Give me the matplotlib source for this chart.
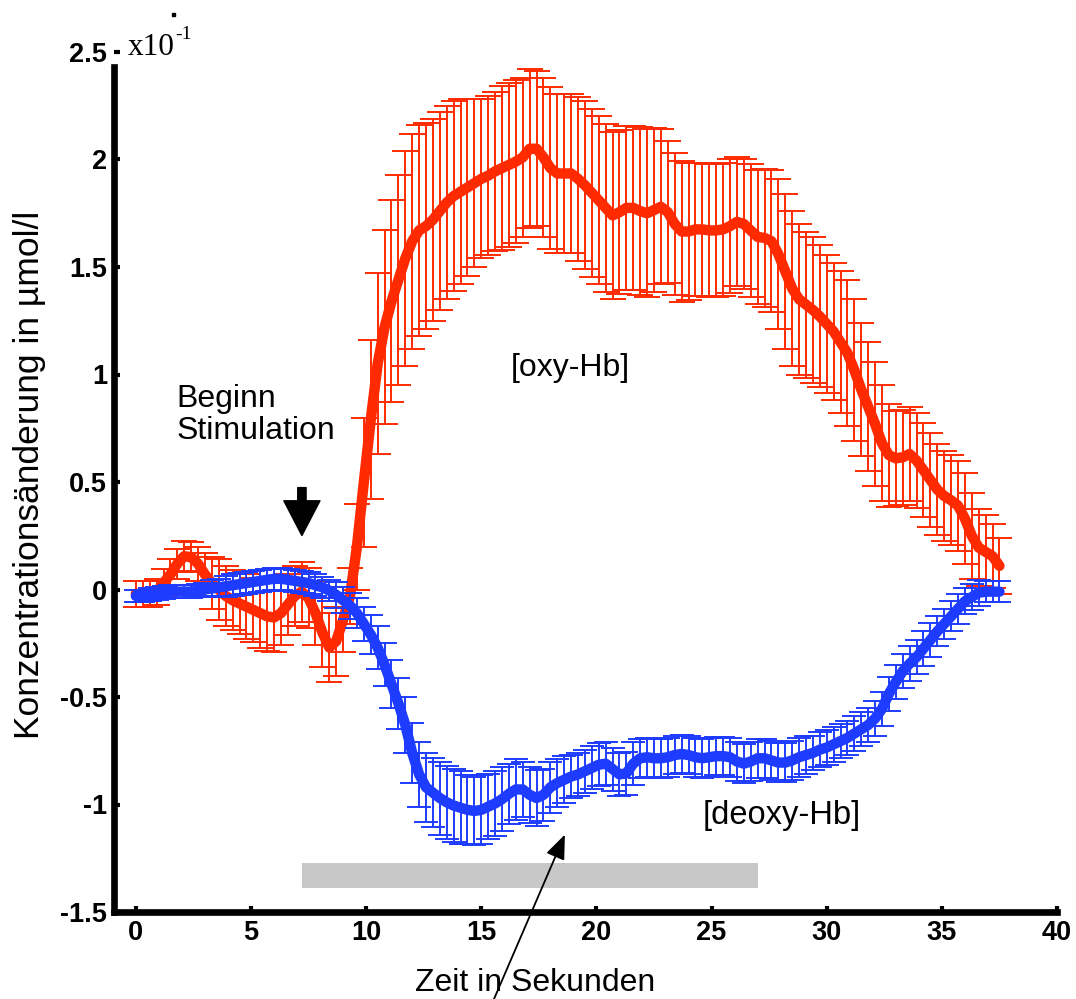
import matplotlib
matplotlib.use("Agg")
import matplotlib.pyplot as plt
import numpy as np

# sampling step of the averaged curves (s)
dt = 0.3

# [oxy-Hb] mean change (x10^-1 umol/l), one row = 3 s
oxy = [
    -0.02, -0.02, -0.02, -0.01, 0.03, 0.07, 0.12, 0.155, 0.15, 0.12,
    0.07, 0.03, 0.00, -0.03, -0.05, -0.065, -0.08, -0.095, -0.11, -0.125,
    -0.13, -0.11, -0.07, -0.03, -0.01, -0.04, -0.11, -0.20, -0.27, -0.24,
    -0.14, -0.03, 0.20, 0.50, 0.79, 1.05, 1.22, 1.34, 1.44, 1.54,
    1.62, 1.67, 1.69, 1.72, 1.76, 1.80, 1.83, 1.85, 1.87, 1.89,
    1.91, 1.925, 1.945, 1.96, 1.975, 1.99, 2.01, 2.05, 2.05, 2.01,
    1.96, 1.935, 1.935, 1.935, 1.91, 1.88, 1.845, 1.81, 1.775, 1.74,
    1.755, 1.775, 1.775, 1.76, 1.75, 1.765, 1.78, 1.755, 1.70, 1.665,
    1.665, 1.675, 1.675, 1.67, 1.67, 1.675, 1.69, 1.71, 1.70, 1.67,
    1.64, 1.635, 1.62, 1.56, 1.48, 1.40, 1.35, 1.325, 1.30, 1.27,
    1.235, 1.20, 1.15, 1.10, 1.02, 0.93, 0.85, 0.77, 0.68, 0.625,
    0.61, 0.615, 0.63, 0.60, 0.555, 0.51, 0.465, 0.435, 0.415, 0.39,
    0.33, 0.25, 0.195, 0.175, 0.155, 0.11,
]
oxy_err = [
    0.06, 0.06, 0.06, 0.06, 0.065, 0.07, 0.07, 0.07, 0.07, 0.08,
    0.10, 0.12, 0.14, 0.14, 0.14, 0.14, 0.15, 0.15, 0.16, 0.16,
    0.16, 0.15, 0.14, 0.14, 0.14, 0.14, 0.15, 0.16, 0.16, 0.16,
    0.15, 0.13, 0.20, 0.30, 0.37, 0.42, 0.45, 0.47, 0.49, 0.50,
    0.50, 0.49, 0.48, 0.47, 0.46, 0.45, 0.44, 0.43, 0.41, 0.39,
    0.37, 0.37, 0.37, 0.38, 0.38, 0.38, 0.37, 0.37, 0.36, 0.37,
    0.375, 0.37, 0.37, 0.37, 0.38, 0.39, 0.39, 0.39, 0.39, 0.39,
    0.38, 0.38, 0.38, 0.39, 0.39, 0.38, 0.36, 0.33, 0.33, 0.33,
    0.32, 0.31, 0.31, 0.31, 0.31, 0.31, 0.31, 0.30, 0.30, 0.31,
    0.31, 0.32, 0.33, 0.35, 0.36, 0.36, 0.35, 0.34, 0.34, 0.33,
    0.32, 0.32, 0.33, 0.34, 0.33, 0.31, 0.30, 0.29, 0.27, 0.24,
    0.22, 0.22, 0.22, 0.22, 0.22, 0.22, 0.21, 0.21, 0.21, 0.21,
    0.21, 0.20, 0.18, 0.17, 0.15, 0.13,
]

# [deoxy-Hb]
deoxy = [
    -0.03, -0.03, -0.025, -0.02, -0.015, -0.01, -0.01, -0.01, -0.01, -0.005,
    0.0, 0.005, 0.01, 0.015, 0.02, 0.025, 0.03, 0.035, 0.04, 0.045,
    0.05, 0.05, 0.045, 0.04, 0.035, 0.03, 0.02, 0.01, -0.005, -0.025,
    -0.05, -0.075, -0.11, -0.16, -0.21, -0.27, -0.35, -0.44, -0.53, -0.63,
    -0.76, -0.86, -0.92, -0.945, -0.97, -0.99, -1.005, -1.015, -1.025, -1.03,
    -1.025, -1.01, -0.995, -0.975, -0.95, -0.93, -0.93, -0.955, -0.97, -0.955,
    -0.92, -0.90, -0.885, -0.87, -0.86, -0.845, -0.83, -0.815, -0.81, -0.835,
    -0.86, -0.855, -0.81, -0.785, -0.78, -0.785, -0.785, -0.78, -0.77, -0.765,
    -0.77, -0.78, -0.785, -0.78, -0.775, -0.775, -0.78, -0.80, -0.81, -0.80,
    -0.785, -0.785, -0.795, -0.805, -0.805, -0.795, -0.78, -0.77, -0.76, -0.745,
    -0.735, -0.72, -0.705, -0.69, -0.67, -0.65, -0.63, -0.60, -0.555, -0.485,
    -0.43, -0.38, -0.345, -0.315, -0.275, -0.235, -0.195, -0.16, -0.125, -0.09,
    -0.055, -0.035, -0.015, -0.01, -0.01, -0.01,
]
deoxy_err = [
    0.03, 0.03, 0.03, 0.03, 0.03, 0.03, 0.03, 0.03, 0.03, 0.03,
    0.03, 0.04, 0.04, 0.05, 0.05, 0.05, 0.05, 0.05, 0.05, 0.05,
    0.05, 0.05, 0.05, 0.05, 0.05, 0.05, 0.05, 0.05, 0.05, 0.06,
    0.06, 0.06, 0.07, 0.08, 0.09, 0.10, 0.10, 0.11, 0.12, 0.13,
    0.14, 0.15, 0.16, 0.16, 0.17, 0.17, 0.17, 0.17, 0.16, 0.16,
    0.16, 0.15, 0.15, 0.15, 0.14, 0.14, 0.13, 0.13, 0.13, 0.12,
    0.12, 0.11, 0.11, 0.10, 0.10, 0.10, 0.10, 0.10, 0.10, 0.10,
    0.10, 0.10, 0.10, 0.09, 0.09, 0.09, 0.09, 0.09, 0.09, 0.09,
    0.09, 0.09, 0.09, 0.09, 0.09, 0.09, 0.09, 0.09, 0.09, 0.09,
    0.09, 0.09, 0.09, 0.09, 0.09, 0.09, 0.09, 0.09, 0.08, 0.08,
    0.08, 0.08, 0.08, 0.08, 0.08, 0.08, 0.08, 0.08, 0.08, 0.08,
    0.08, 0.08, 0.08, 0.08, 0.08, 0.08, 0.07, 0.07, 0.07, 0.07,
    0.06, 0.06, 0.06, 0.05, 0.05, 0.05,
]

# stimulation period (s)
stim_on, stim_off = 7.2, 27.0

xticks = [0, 5, 10, 15, 20, 25, 30, 35, 40]
yticks = [-1.5, -1, -0.5, 0, 0.5, 1, 1.5, 2, 2.5]
ytick_labels = ["-1.5", "-1", "-0.5", "0", "0.5", "1", "1.5", "2", "2.5"]

t = np.arange(len(oxy)) * dt
red = "#ff2a00"
blue = "#1e3cff"

plt.rcParams["font.family"] = ["Liberation Sans", "DejaVu Sans"]

fig = plt.figure(figsize=(10.76, 9.99), dpi=100)
ax = fig.add_axes([114 / 1076, 87 / 999, 943 / 1076, 860 / 999])

ax.barh(-1.331, stim_off - stim_on, left=stim_on, height=0.116,
        color="#c8c8c8", zorder=1)

ax.errorbar(t, oxy, yerr=oxy_err, fmt="none", ecolor=red, elinewidth=1.4,
            capsize=9.5, capthick=1.4, zorder=2)
ax.plot(t, oxy, color=red, lw=7.5, solid_capstyle="round", zorder=3)
ax.errorbar(t, deoxy, yerr=deoxy_err, fmt="none", ecolor=blue, elinewidth=1.4,
            capsize=8.5, capthick=1.4, zorder=4)
ax.plot(t, deoxy, color=blue, lw=7.5, solid_capstyle="round", zorder=5)

ax.set_xlim(-0.95, 40)
ax.set_ylim(-1.5, 2.5)
ax.set_xticks(xticks)
ax.set_yticks(yticks)
ax.set_yticklabels(ytick_labels)
for lab in ax.get_xticklabels() + ax.get_yticklabels():
    lab.set_fontweight("bold")
ax.tick_params(direction="in", length=4, width=3, labelsize=19.5)
ax.tick_params(axis="x", pad=6)
ax.tick_params(axis="y", pad=5)
ax.spines["top"].set_visible(False)
ax.spines["right"].set_visible(False)
ax.spines["left"].set_linewidth(4.8)
ax.spines["bottom"].set_linewidth(4.8)
ax.spines["left"].set_bounds(-1.5, 2.43)

ax.set_ylabel("Konzentrationsänderung in µmol/l", fontsize=25.5)
ax.yaxis.set_label_coords(-0.072, 0.508)

ax.text(1.78, 0.81, "Beginn\nStimulation", fontsize=23, ha="left",
        va="center", linespacing=1.08)
ax.text(16.28, 1.03, "[oxy-Hb]", fontsize=23, ha="left", va="center")
ax.text(24.62, -1.05, "[deoxy-Hb]", fontsize=23.5, ha="left", va="center")
ax.text(12.1, -1.83, "Zeit in Sekunden", fontsize=23, ha="left",
        va="center", clip_on=False)

# stimulation onset marker
ax.annotate("", xy=(7.21, 0.251), xytext=(7.21, 0.474),
            arrowprops=dict(arrowstyle="simple,head_length=2.5,head_width=2.6,tail_width=0.6",
                            mutation_scale=10, color="black", shrinkA=0, shrinkB=0),
            zorder=6)
# arrow from the axis title
ax.annotate("", xy=(18.63, -1.14), xytext=(15.45, -1.93),
            arrowprops=dict(arrowstyle="-|>,head_length=1.5,head_width=0.6",
                            mutation_scale=10, color="black", lw=1.3,
                            shrinkA=0, shrinkB=0),
            annotation_clip=False, zorder=6)

fig.text(128 / 1076, 1 - 55 / 999, "x10", fontsize=22.5,
         family="Liberation Serif", va="baseline")
fig.text(175 / 1076, 1 - 39 / 999, "-1", fontsize=14,
         family="Liberation Serif", va="baseline")
fig.add_artist(plt.Rectangle((172 / 1076, 1 - 16 / 999), 3 / 1076, 3 / 999,
                             transform=fig.transFigure, color="black"))

fig.savefig("out.png", dpi=100)
